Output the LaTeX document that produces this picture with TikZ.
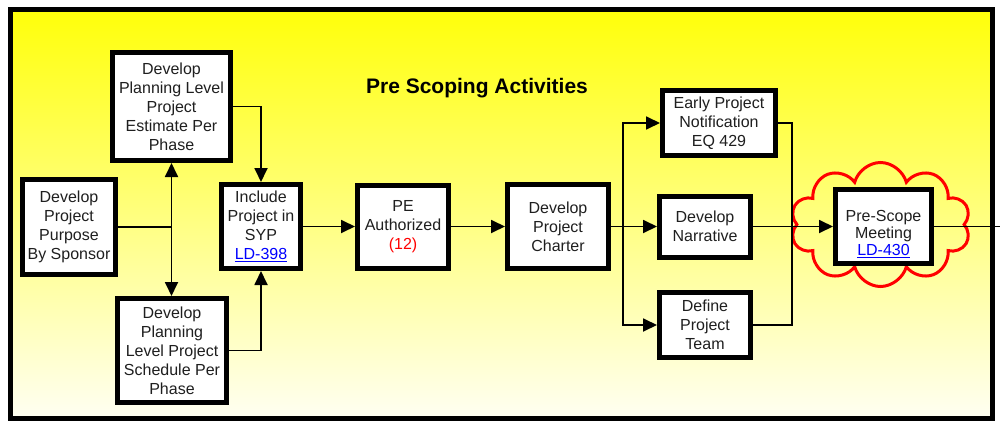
\documentclass[tikz,border=0pt]{standalone}
\usepackage{fontspec}
\setmainfont{Liberation Sans}
\usetikzlibrary{arrows.meta,shapes.symbols,calc}
\newcommand\mylink[1]{\textcolor{blue}{\underline{#1}}}
\begin{document}
\begin{tikzpicture}[x=1pt,y=-1pt,
  box/.style={draw, line width=5pt, fill=white, align=center, inner sep=0pt,
    font=\fontsize{16}{19}\selectfont, text=black!88},
  conn/.style={line width=1.8pt},
  arr/.style={conn, -{Triangle[length=14pt,width=13pt]}},
  arrboth/.style={conn, {Triangle[length=14pt,width=13pt]}-{Triangle[length=14pt,width=13pt]}}]
\useasboundingbox (0,0) rectangle (1000,436);
\fill[white] (0,0) rectangle (1000,436);
\shade[top color={rgb,255:red,255;green,255;blue,10}, bottom color={rgb,255:red,255;green,255;blue,242}] (10,10) rectangle (992,418);
\draw[line width=5pt] (10,10) rectangle (992,418);

\node[font=\bfseries\fontsize{21}{25}\selectfont] (title) at (477,88) {Pre Scoping Activities};

\node[box, minimum width=93pt, minimum height=95pt] (purpose) at (69,227) {Develop\\Project\\Purpose\\By Sponsor};
\node[box, minimum width=118pt, minimum height=108pt] (estimate) at (171.5,106.5) {Develop\\Planning Level\\Project\\Estimate Per\\Phase};
\node[box, minimum width=109pt, minimum height=104pt] (schedule) at (172,350.5) {Develop\\Planning\\Level Project\\Schedule Per\\Phase};
\node[box, minimum width=79pt, minimum height=84pt] (include) at (261,226.5) {Include\\Project in\\SYP\\\mylink{LD-398}};
\node[box, minimum width=91pt, minimum height=83pt] (pe) at (403,226.5) {PE\\Authorized\\\textcolor{red}{(12)}};
\node[box, minimum width=101pt, minimum height=84pt] (charter) at (558,226.5) {Develop\\Project\\Charter};
\node[box, minimum width=113pt, minimum height=65pt] (early) at (719,123) {Early Project\\Notification\\EQ 429};
\node[box, minimum width=91pt, minimum height=61pt] (narrative) at (705,226.5) {Develop\\Narrative};
\node[box, minimum width=91pt, minimum height=65pt] (team) at (705,325) {Define\\Project\\Team};

\node[cloud, draw=red, line width=3pt, cloud puffs=10, cloud puff arc=150, cloud ignores aspect,
  minimum width=180pt, minimum height=124pt, inner sep=0pt] (cloud) at (880.5,224.5) {};
\node[box, minimum width=96pt, minimum height=74pt] (prescope) at (883.5,226.5) {};
\node[align=center, inner sep=0pt, font=\fontsize{16}{17}\selectfont, text=black!88] (prescopetxt) at (883.5,234) {Pre-Scope\\Meeting\\\mylink{LD-430}};

\draw[conn] (purpose.east) -- (purpose.east -| estimate.south);
\draw[arrboth] (estimate.south) -- (estimate.south |- schedule.north);
\draw[arr] (estimate.east) -| (include.north);
\draw[arr] (schedule.east) -| (include.south);
\draw[arr] (include.east) -- (pe.west);
\draw[arr] (pe.east) -- (charter.west);
\coordinate (split) at (623,226.5);
\draw[arr] (charter.east) -- (narrative.west);
\draw[arr] (split) |- (early.west);
\draw[arr] (split) |- (team.west);
\coordinate (join) at (792,226.5);
\draw[conn] (early.east) -| (join) |- (team.east);
\draw[arr] (narrative.east) -- (prescope.west);
\coordinate (exit) at (1002,226.5);
\draw[conn] (prescope.east) -- (exit);
\end{tikzpicture}
\end{document}
